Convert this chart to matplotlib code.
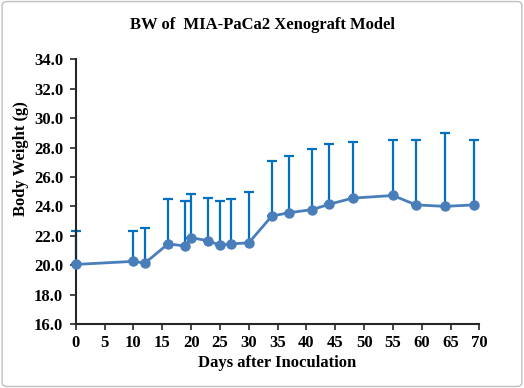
import matplotlib
matplotlib.use("Agg")
import matplotlib.pyplot as plt
from matplotlib.patches import FancyBboxPatch

days = [0, 10, 12, 16, 19, 20, 23, 25, 27, 30, 34, 37, 41, 44, 48, 55, 59, 64, 69]
bw = [20.05, 20.26, 20.14, 21.45, 21.3, 21.87, 21.66, 21.36, 21.45, 21.52,
      23.34, 23.57, 23.78, 24.15, 24.56, 24.74, 24.1, 24.0, 24.1]
err = [2.25, 2.09, 2.36, 3.05, 3.05, 2.98, 2.94, 3.01, 3.03, 3.48,
       3.73, 3.88, 4.12, 4.11, 3.8, 3.8, 4.4, 4.98, 4.4]
xticks = list(range(0, 71, 5))
yticks = [16, 18, 20, 22, 24, 26, 28, 30, 32, 34]

plt.rcParams['font.family'] = ['Liberation Serif', 'DejaVu Serif']

fig = plt.figure(figsize=(5.24, 3.88), dpi=100)
border = FancyBboxPatch((0.004, 0.004), 0.992, 0.992, boxstyle="round,pad=0,rounding_size=0.01",
                        transform=fig.transFigure, facecolor='none', edgecolor='#BFBFBF',
                        linewidth=1.0, zorder=-10)
fig.add_artist(border)

ax = fig.add_axes([0.1445, 0.165, 0.7705, 0.682])
ax.patch.set_alpha(0)

ax.errorbar(days, bw, yerr=[[0]*len(err), err], fmt='none', ecolor='#0070C0',
            elinewidth=1.6, capsize=3.5, capthick=1.6, zorder=2, clip_on=False)
ax.plot(days, bw, color='#4A7EBB', linewidth=2, marker='o', markersize=6.5,
        markerfacecolor='#4A7EBB', markeredgecolor='#4A7EBB', zorder=3, clip_on=False)

ax.set_xlim(0, 70)
ax.set_ylim(16, 34)
ax.set_xticks(xticks)
ax.set_yticks(yticks)
ax.set_yticklabels([f"{v:.1f}" for v in yticks])
for lab in ax.get_xticklabels() + ax.get_yticklabels():
    lab.set_fontweight('bold')
    lab.set_fontsize(12)
ax.tick_params(axis='both', direction='out', length=4, width=1.2, color='#262626')
ax.tick_params(axis='y', pad=5)
ax.tick_params(axis='x', pad=4)
for s in ['top', 'right']:
    ax.spines[s].set_visible(False)
for s in ['left', 'bottom']:
    ax.spines[s].set_color('#262626')
    ax.spines[s].set_linewidth(1.5)

ax.set_xlabel('Days after Inoculation', fontsize=12, fontweight='bold', labelpad=3)
ax.set_ylabel('Body Weight (g)', fontsize=12, fontweight='bold', labelpad=4)
ax.yaxis.set_label_coords(-0.115, 0.627)
fig.text(0.5, 0.935, 'BW of  MIA-PaCa2 Xenograft Model', ha='center', va='center',
         fontsize=12, fontweight='bold', family=['Liberation Serif', 'DejaVu Serif'])

fig.savefig('out.png', dpi=100)
